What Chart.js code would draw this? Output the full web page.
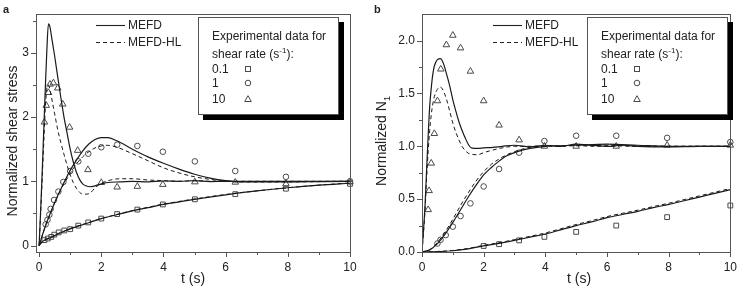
<!DOCTYPE html>
<html>
<head>
<meta charset="utf-8">
<script src="https://cdn.jsdelivr.net/npm/chart.js@4.4.1/dist/chart.umd.min.js"></script>
<style>
  body { margin: 0; background: #fff; font-family: "Liberation Sans", Arial, sans-serif; color: #222; }
  #wrap { position: relative; width: 745px; height: 295px; overflow: hidden; }
  canvas { position: absolute; top: 0; }
  .t { position: absolute; white-space: nowrap; line-height: 14px; font-size: 12px; }
  .lbl { position: absolute; font-weight: bold; font-size: 11px; }
  .ytitle { position: absolute; width: 220px; height: 18px; line-height: 18px; text-align: center; font-size: 14px; transform: rotate(-90deg); }
  .xtitle { position: absolute; font-size: 14px; width: 60px; text-align: center; }
  .box { position: absolute; width: 141px; height: 98px; box-sizing: border-box; border: 1px solid #555; background: #fff; box-shadow: 5px 5px 0 #000; }
  sup { font-size: 8px; vertical-align: 5px; line-height: 0; }
  svg { position: absolute; overflow: visible; }
</style>
</head>
<body>
<div id="wrap">
  <canvas id="chartA" width="370" height="295" style="left:0"></canvas>
  <canvas id="chartB" width="375" height="295" style="left:370px"></canvas>
</div>
<script>
// tick positions
const xMajor = [0, 2, 4, 6, 8, 10];
const xMinor = [1, 3, 5, 7, 9];
const yMajorA = [0, 1, 2, 3];
const yMinorA = [0.5, 1.5, 2.5, 3.5];
const yMajorB = [0, 0.5, 1, 1.5, 2];
const yMinorB = [0.25, 0.75, 1.25, 1.75];

// panel a - experimental points
const tSqA = [0.17, 0.28, 0.39, 0.49, 0.63, 0.81, 1.0, 1.26, 1.58, 2.0, 2.51, 3.16, 3.98, 5.01, 6.31, 7.94, 10];
const sqA = [0.085, 0.11, 0.135, 0.17, 0.205, 0.235, 0.255, 0.31, 0.36, 0.42, 0.49, 0.56, 0.64, 0.72, 0.80, 0.885, 0.96];
const tCiA = [0.21, 0.27, 0.33, 0.37, 0.48, 0.62, 0.78, 1.0, 1.26, 1.58, 2.0, 2.51, 3.16, 3.98, 5.01, 6.31, 7.94, 10];
const ciA = [0.33, 0.40, 0.48, 0.57, 0.71, 0.84, 0.99, 1.16, 1.31, 1.43, 1.53, 1.57, 1.55, 1.46, 1.31, 1.16, 1.07, 1.0];
const tTrA = [0.17, 0.23, 0.30, 0.35, 0.46, 0.6, 0.76, 0.98, 1.24, 1.57, 2.0, 2.51, 3.16, 3.98, 5.01, 6.31, 7.94, 10];
const trA = [1.92, 2.18, 2.38, 2.51, 2.53, 2.45, 2.2, 1.84, 1.48, 1.18, 0.98, 0.91, 0.92, 0.95, 0.99, 0.985, 0.96, 0.99];

// panel a - model curves
const tA01 = [0, 0.1, 0.2, 0.4, 0.6, 0.8, 1, 1.5, 2, 2.5, 3, 3.5, 4, 5, 6, 7, 8, 9, 10];
const mefdA01 = [0, 0.06, 0.09, 0.13, 0.18, 0.22, 0.26, 0.34, 0.42, 0.48, 0.54, 0.59, 0.64, 0.72, 0.79, 0.85, 0.9, 0.94, 0.97];
const hlA01 = [0, 0.06, 0.09, 0.135, 0.185, 0.225, 0.265, 0.345, 0.42, 0.485, 0.545, 0.595, 0.645, 0.725, 0.795, 0.85, 0.9, 0.94, 0.975];
const tA1 = [0, 0.2, 0.4, 0.6, 0.8, 1.0, 1.2, 1.4, 1.6, 1.8, 2.0, 2.2, 2.5, 3.0, 3.5, 4.0, 4.5, 5.0, 5.5, 6.0, 6.5, 7, 8, 9, 10];
const mefdA1 = [0, 0.3, 0.55, 0.78, 0.98, 1.17, 1.33, 1.47, 1.58, 1.65, 1.68, 1.68, 1.63, 1.5, 1.38, 1.28, 1.19, 1.11, 1.05, 1.01, 0.99, 0.99, 0.99, 0.995, 1.0];
const hlA1 = [0, 0.3, 0.55, 0.77, 0.96, 1.12, 1.27, 1.38, 1.46, 1.52, 1.55, 1.56, 1.53, 1.43, 1.32, 1.21, 1.13, 1.07, 1.03, 1.0, 0.99, 0.99, 0.99, 0.995, 1.0];
const tA10 = [0, 0.05, 0.1, 0.15, 0.2, 0.25, 0.3, 0.35, 0.4, 0.5, 0.6, 0.7, 0.8, 0.9, 1.0, 1.1, 1.2, 1.3, 1.4, 1.5, 1.65, 1.8, 2.0, 2.3, 2.6, 3.0, 3.5, 4.0, 4.5, 5.0, 5.5, 6.0, 7.0, 8.0, 9.0, 10];
const mefdA10 = [0, 0.55, 1.15, 1.8, 2.45, 3.05, 3.45, 3.4, 3.25, 2.95, 2.62, 2.3, 2.0, 1.75, 1.5, 1.3, 1.14, 1.03, 0.96, 0.93, 0.915, 0.93, 0.96, 0.985, 0.99, 1.0, 0.99, 1.005, 1.0, 1.01, 0.995, 1.0, 1.0, 1.0, 1.0, 1.0];
const hlA10 = [0, 0.5, 1.05, 1.6, 2.15, 2.45, 2.5, 2.42, 2.3, 2.05, 1.8, 1.6, 1.42, 1.25, 1.1, 0.98, 0.89, 0.83, 0.8, 0.8, 0.82, 0.9, 0.97, 1.02, 1.04, 1.04, 1.02, 1.01, 1.0, 1.01, 1.0, 1.0, 1.0, 1.0, 1.0, 1.0];

// panel b - experimental points
const tSqB = [2.0, 2.5, 3.15, 3.97, 5.0, 6.3, 7.95, 10];
const sqB = [0.057, 0.074, 0.11, 0.143, 0.19, 0.25, 0.33, 0.44];
const tCiB = [0.5, 0.6, 0.77, 1.0, 1.25, 1.57, 2.0, 2.5, 3.15, 3.97, 5.0, 6.3, 7.95, 10];
const ciB = [0.08, 0.115, 0.16, 0.24, 0.34, 0.46, 0.62, 0.785, 0.94, 1.05, 1.1, 1.1, 1.08, 1.04];
const tTrB = [0.2, 0.23, 0.3, 0.4, 0.5, 0.61, 0.79, 1.0, 1.25, 1.57, 2.0, 2.5, 3.15, 3.97, 5.0, 6.3, 7.95, 10];
const trB = [0.40, 0.58, 0.84, 1.12, 1.43, 1.73, 1.96, 2.05, 1.93, 1.71, 1.43, 1.2, 1.06, 1.0, 1.0, 1.0, 1.01, 1.01];

// panel b - model curves
const tB01 = [0, 0.5, 1, 1.5, 2, 2.5, 3, 3.5, 4, 4.5, 5, 5.5, 6, 6.5, 7, 7.5, 8, 8.5, 9, 9.5, 10];
const mefdB01 = [0, 0.004, 0.012, 0.03, 0.058, 0.082, 0.11, 0.14, 0.17, 0.21, 0.25, 0.285, 0.325, 0.355, 0.385, 0.42, 0.45, 0.485, 0.52, 0.555, 0.59];
const hlB01 = [0, 0.005, 0.015, 0.034, 0.063, 0.088, 0.117, 0.148, 0.18, 0.22, 0.26, 0.296, 0.335, 0.366, 0.396, 0.43, 0.461, 0.496, 0.531, 0.566, 0.6];
const tB1 = [0, 0.25, 0.5, 0.75, 1.0, 1.25, 1.5, 1.75, 2.0, 2.25, 2.5, 2.75, 3.0, 3.5, 4, 5, 6, 7, 8, 9, 10];
const mefdB1 = [0, 0.02, 0.08, 0.17, 0.28, 0.4, 0.52, 0.63, 0.73, 0.8, 0.86, 0.91, 0.94, 0.98, 1.0, 1.01, 1.02, 1.01, 1.0, 1.0, 1.0];
const hlB1 = [0, 0.02, 0.09, 0.19, 0.31, 0.44, 0.56, 0.67, 0.76, 0.83, 0.88, 0.92, 0.95, 0.99, 1.0, 1.005, 1.01, 1.0, 1.0, 1.0, 1.0];
const tB10 = [0, 0.1, 0.15, 0.2, 0.25, 0.3, 0.35, 0.4, 0.5, 0.6, 0.7, 0.8, 0.9, 1.0, 1.1, 1.2, 1.3, 1.4, 1.5, 1.6, 1.8, 2.0, 2.3, 2.6, 3.0, 3.5, 4.0, 4.5, 5.0, 5.5, 6.0, 6.5, 7.0, 8.0, 9.0, 10];
const mefdB10 = [0, 0.45, 0.78, 1.1, 1.38, 1.55, 1.68, 1.76, 1.82, 1.83, 1.78, 1.68, 1.57, 1.44, 1.33, 1.23, 1.15, 1.08, 1.02, 0.985, 0.98, 0.985, 0.99, 1.0, 1.01, 0.995, 1.01, 1.0, 1.02, 1.01, 1.0, 1.01, 1.0, 0.995, 1.0, 1.0];
const hlB10 = [0, 0.4, 0.7, 0.95, 1.15, 1.3, 1.4, 1.47, 1.54, 1.56, 1.52, 1.44, 1.33, 1.22, 1.13, 1.06, 1.0, 0.96, 0.935, 0.925, 0.92, 0.94, 0.965, 0.985, 1.0, 1.0, 1.005, 1.0, 1.01, 1.0, 1.0, 1.005, 1.0, 1.0, 1.0, 1.0];

Chart.defaults.font.family = '"Liberation Sans", Arial, sans-serif';
Chart.defaults.color = '#222';

const pts = (ts, vs) => ts.map((t, i) => ({x: t, y: vs[i]}));

const curve = (ts, vs, dashed) => ({
    data: pts(ts, vs),
    showLine: true,
    borderColor: '#1a1a1a',
    borderWidth: dashed ? 1 : 1.2,
    borderDash: dashed ? [4, 3] : [],
    pointRadius: 0,
    cubicInterpolationMode: 'monotone'
});

const marks = (ts, vs, style, r) => ({
    data: pts(ts, vs),
    showLine: false,
    pointStyle: style,
    pointRadius: r,
    borderColor: '#4a4a4a',
    backgroundColor: 'rgba(0,0,0,0)',
    borderWidth: 1,
    clip: 8
});

// box frame and outward tick marks
const frame = {
    id: 'frame',
    afterDraw(chart, args, o) {
        const {ctx, chartArea: a, scales: {x, y}} = chart;
        ctx.save();
        ctx.strokeStyle = '#555';
        ctx.lineWidth = 1;
        ctx.strokeRect(Math.round(a.left) + .5, Math.round(a.top) + .5, Math.round(a.right - a.left), Math.round(a.bottom - a.top));
        ctx.beginPath();
        const xt = (v, len) => {
            const px = Math.round(x.getPixelForValue(v)) + .5;
            ctx.moveTo(px, a.bottom); ctx.lineTo(px, a.bottom + len);
        };
        const yt = (v, len) => {
            const py = Math.round(y.getPixelForValue(v)) + .5;
            ctx.moveTo(a.left, py); ctx.lineTo(a.left - len, py);
        };
        o.xMajor.forEach(v => xt(v, 5));
        o.xMinor.forEach(v => xt(v, 3));
        o.yMajor.forEach(v => yt(v, 5));
        o.yMinor.forEach(v => yt(v, 3));
        ctx.stroke();
        ctx.restore();
    }
};

const makeOptions = (cfg) => ({
    responsive: false,
    animation: false,
    events: [],
    layout: {padding: {top: 5, right: cfg.padRight, left: 0, bottom: 0}},
    plugins: {
        legend: {display: false},
        tooltip: {enabled: false},
        frame: {xMajor: xMajor, xMinor: xMinor, yMajor: cfg.yMajor, yMinor: cfg.yMinor}
    },
    scales: {
        x: {
            type: 'linear',
            min: cfg.xMin, max: 10,
            afterBuildTicks: s => { s.ticks = xMajor.map(v => ({value: v})); },
            afterFit: s => { s.height = 43; },
            grid: {display: false, drawTicks: false},
            border: {display: false},
            ticks: {padding: 8, font: {size: 12}, color: '#222', callback: v => v}
        },
        y: {
            type: 'linear',
            min: cfg.yMin, max: cfg.yMax,
            afterBuildTicks: s => { s.ticks = cfg.yMajor.map(v => ({value: v})); },
            afterFit: s => { s.width = cfg.yWidth; },
            grid: {display: false, drawTicks: false},
            border: {display: false},
            ticks: {padding: 7, font: {size: 12}, color: '#222', callback: cfg.yFmt}
        }
    }
});

new Chart(document.getElementById('chartA'), {
    type: 'scatter',
    data: {
        datasets: [
            curve(tA01, mefdA01, false), curve(tA01, hlA01, true),
            curve(tA1, mefdA1, false), curve(tA1, hlA1, true),
            curve(tA10, mefdA10, false), curve(tA10, hlA10, true),
            marks(tSqA, sqA, 'rect', 3.4),
            marks(tCiA, ciA, 'circle', 2.8),
            marks(tTrA, trA, 'triangle', 3.8)
        ]
    },
    options: makeOptions({padRight: 20, xMin: -0.1, yMin: -0.1, yMax: 3.6, yWidth: 36,
        yMajor: yMajorA, yMinor: yMinorA, yFmt: v => v}),
    plugins: [frame]
});

new Chart(document.getElementById('chartB'), {
    type: 'scatter',
    data: {
        datasets: [
            curve(tB01, mefdB01, false), curve(tB01, hlB01, true),
            curve(tB1, mefdB1, false), curve(tB1, hlB1, true),
            curve(tB10, mefdB10, false), curve(tB10, hlB10, true),
            marks(tSqB, sqB, 'rect', 3.4),
            marks(tCiB, ciB, 'circle', 2.8),
            marks(tTrB, trB, 'triangle', 3.8)
        ]
    },
    options: makeOptions({padRight: 9, xMin: 0, yMin: 0, yMax: 2.25, yWidth: 52,
        yMajor: yMajorB, yMinor: yMinorB, yFmt: v => v.toFixed(1)}),
    plugins: [frame]
});

// text overlays: titles, panel letters and legends
const wrap = document.getElementById('wrap');
const add = (html) => wrap.insertAdjacentHTML('beforeend', html);

const lineSample = (x, y, dashed) =>
    `<svg style="left:${x}px;top:${y}px" width="29" height="2"><line x1="0" y1="0.5" x2="29" y2="0.5" stroke="#222" stroke-width="1.1" ${dashed ? 'stroke-dasharray="4,3"' : ''}/></svg>`;

const symbols = (x, y) =>
    `<svg style="left:${x - 4}px;top:${y - 4}px" width="8" height="8"><rect x="1.5" y="1.5" width="5" height="5" fill="none" stroke="#4a4a4a"/></svg>` +
    `<svg style="left:${x - 4}px;top:${y + 14 - 4}px" width="8" height="8"><circle cx="4" cy="4" r="2.8" fill="none" stroke="#4a4a4a"/></svg>` +
    `<svg style="left:${x - 4}px;top:${y + 30 - 4}px" width="8" height="8"><path d="M4 0.7 L7.3 6.5 L0.7 6.5 Z" fill="none" stroke="#4a4a4a"/></svg>`;

const panel = (p) => {
    add(`<div class="lbl" style="left:${p.lx}px;top:3px">${p.letter}</div>`);
    add(`<div class="ytitle" style="left:${p.ytx - 110}px;top:${141 - 9}px">${p.ytitle}</div>`);
    add(`<div class="xtitle" style="left:${p.xtx - 30}px;top:270px">t (s)</div>`);
    add(lineSample(p.legX, 25, false) + `<div class="t" style="left:${p.legX + 32}px;top:18px">MEFD</div>`);
    add(lineSample(p.legX, 42, true) + `<div class="t" style="left:${p.legX + 32}px;top:35px">MEFD-HL</div>`);
    add(`<div class="box" style="left:${p.bx}px;top:17px">
        <div class="t" style="left:13px;top:11px">Experimental data for</div>
        <div class="t" style="left:13px;top:29px">shear rate (s<sup>-1</sup>):</div>
        <div class="t" style="left:13px;top:44px">0.1</div>
        <div class="t" style="left:13px;top:58px">1</div>
        <div class="t" style="left:13px;top:74px">10</div>
        ${symbols(49, 51)}
    </div>`);
};

panel({letter: 'a', lx: 3, ytx: 12, ytitle: 'Normalized shear stress', xtx: 193, legX: 96, bx: 198});
panel({letter: 'b', lx: 374, ytx: 381, ytitle: 'Normalized N<sub style="font-size:9px">1</sub>', xtx: 579, legX: 493, bx: 587});
</script>
</body>
</html>
